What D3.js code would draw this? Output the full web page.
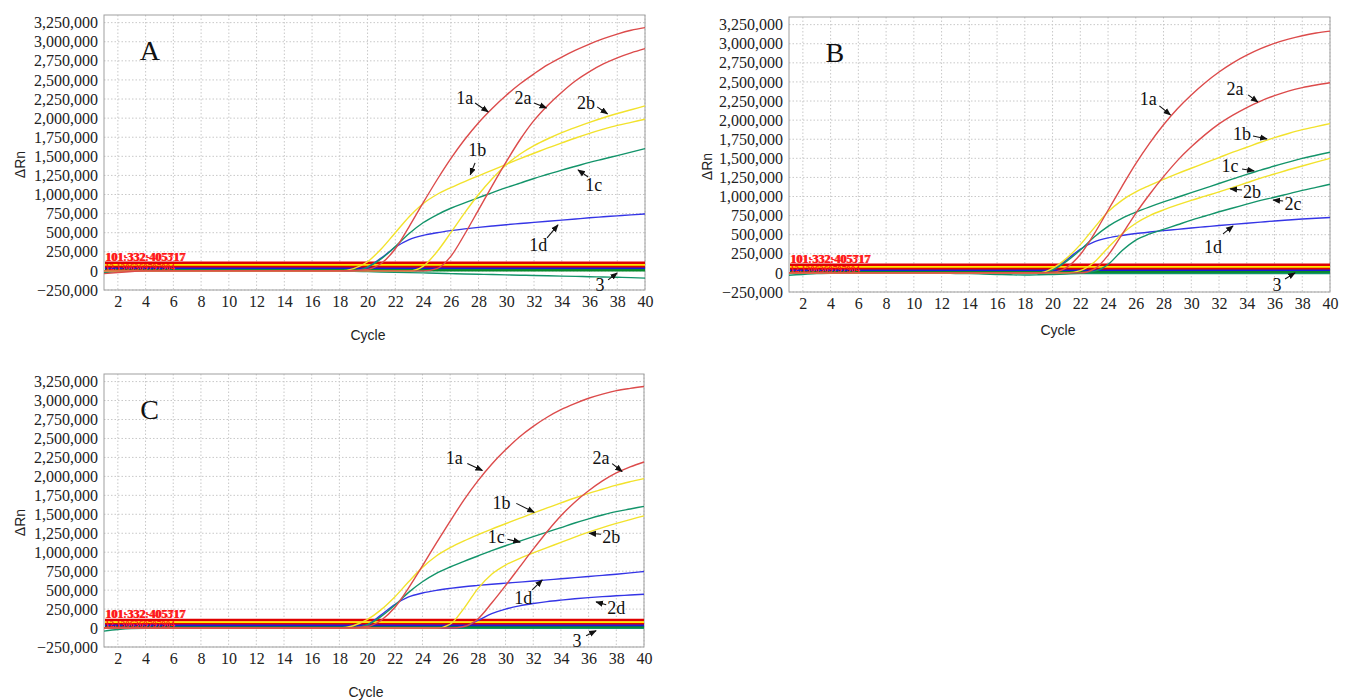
<!DOCTYPE html>
<html>
<head>
<meta charset="utf-8">
<script src="https://cdn.jsdelivr.net/npm/d3@7"></script>
<style>
  body { margin: 0; background: #fff; }
  svg { display: block; }
  .domain { display: none; }
</style>
</head>
<body>
<svg id="chart" width="1349" height="700"></svg>
<script>
// cycles on x, ΔRn values in thousands
const cycles = [1,2,3,4,5,6,7,8,9,10,11,12,13,14,15,16,17,18,19,20,
  21,22,23,24,25,26,27,28,29,30,31,32,33,34,35,36,37,38,39,40];
const xTicks = [2,4,6,8,10,12,14,16,18,20,22,24,26,28,30,32,34,36,38,40];
const yTicks = [-250000,0,250000,500000,750000,1000000,1250000,1500000,1750000,
  2000000,2250000,2500000,2750000,3000000,3250000];

// thresholds (thousands) drawn as flat bands
const thresholdValues = [105, 72, 50, 28, 8];
const thresholdColors = ["#e00000", "#ffe600", "#e00000", "#1a1ad8", "#078a2c"];

// Panel A
const A_1a = [-35,-20,-8,0,0,0,0,0,0,0, 0,0,0,0,0,0,0,0,5,20,
  100,290,580,890,1190,1470,1720,1940,2130,2300, 2450,2580,2700,2800,2890,2970,3040,3100,3150,3185];
const A_2a = [0,0,0,0,0,0,0,0,0,0, 0,0,0,0,0,0,0,0,0,0,
  0,0,0,0,30,190,480,800,1120,1430, 1720,1970,2170,2340,2490,2610,2710,2790,2855,2910];
const A_1b = [0,0,0,0,0,0,0,0,0,0, 0,0,0,0,0,0,0,0,30,120,
  290,500,710,880,1000,1090,1170,1245,1320,1395, 1470,1540,1610,1675,1740,1800,1855,1905,1945,1985];
const A_2b = [0,0,0,0,0,0,0,0,0,0, 0,0,0,0,0,0,0,0,0,0,
  0,0,0,60,250,500,760,1000,1210,1390, 1530,1640,1730,1810,1880,1945,2005,2060,2110,2160];
const A_1c = [0,0,0,0,0,0,0,0,0,0, 0,0,0,0,0,0,0,0,0,50,
  160,320,490,630,735,820,890,960,1025,1090, 1150,1210,1265,1320,1370,1420,1465,1510,1555,1600];
const A_1d = [0,0,0,0,0,0,0,0,0,0, 0,0,0,0,0,0,0,0,0,50,
  170,310,410,465,500,527,550,570,588,605, 620,635,650,665,680,695,708,721,734,746];
const A_3 = [-20,-10,0,5,5,5,5,5,5,5, 5,5,5,5,5,0,0,-3,-6,-10,
  -14,-18,-22,-26,-30,-35,-40,-44,-48,-52, -56,-60,-64,-68,-72,-76,-80,-84,-88,-95];

// Panel B
const B_1a = [0,0,0,0,0,0,0,0,0,0, 0,0,0,0,0,0,0,0,0,10,
  70,240,510,820,1130,1430,1700,1940,2150,2330, 2490,2630,2750,2850,2935,3005,3060,3105,3140,3165];
const B_2a = [0,0,0,0,0,0,0,0,0,0, 0,0,0,0,0,0,0,0,0,0,
  0,0,50,230,500,780,1030,1260,1470,1650, 1810,1950,2065,2165,2250,2320,2380,2425,2460,2490];
const B_1b = [0,0,0,0,0,0,0,0,0,0, 0,0,0,0,0,0,0,0,0,60,
  190,370,590,800,950,1060,1145,1225,1300,1370, 1440,1510,1580,1645,1710,1770,1825,1875,1915,1955];
const B_1c = [0,0,0,0,0,0,0,0,0,0, 0,0,0,0,0,0,0,0,0,40,
  150,300,470,610,715,795,865,930,990,1050, 1110,1170,1230,1290,1345,1400,1450,1500,1540,1580];
const B_2b = [0,0,0,0,0,0,0,0,0,0, 0,0,0,0,0,0,0,0,0,0,
  0,30,140,330,510,650,750,825,890,950, 1005,1060,1120,1180,1240,1295,1350,1400,1450,1500];
const B_2c = [0,0,0,0,0,0,0,0,0,0, 0,0,0,0,0,0,0,0,0,0,
  0,0,20,110,290,430,510,570,630,690, 745,800,850,900,950,990,1035,1080,1120,1160];
const B_1d = [0,0,0,0,0,0,0,0,0,0, 0,0,0,0,0,0,0,0,0,40,
  170,310,405,458,490,515,535,553,570,588, 604,620,635,650,665,680,693,705,715,725];
const B_3 = [-30,-20,-10,-5,-5,-5,-5,-5,-5,-5, -5,-5,-8,-10,-15,-20,-25,-28,-25,-20,
  -15,-10,-8,-8,-8,-8,-8,-8,-8,-8, -8,-8,-8,-8,-8,-8,-8,-8,-8,-8];

// Panel C
const C_1a = [0,0,0,0,0,0,0,0,0,0, 0,0,0,0,0,0,0,0,5,20,
  100,270,530,820,1120,1410,1690,1940,2160,2350, 2520,2660,2780,2880,2960,3030,3085,3130,3160,3185];
const C_2a = [0,0,0,0,0,0,0,0,0,0, 0,0,0,0,0,0,0,0,0,0,
  0,0,0,0,0,0,20,120,330,560, 800,1040,1270,1480,1660,1810,1940,2045,2125,2190];
const C_1b = [0,0,0,0,0,0,0,0,0,0, 0,0,0,0,0,0,0,0,30,110,
  240,410,610,800,950,1060,1150,1230,1305,1375, 1445,1515,1585,1650,1715,1775,1830,1885,1930,1970];
const C_1c = [0,0,0,0,0,0,0,0,0,0, 0,0,0,0,0,0,0,0,0,40,
  150,300,470,610,720,805,880,950,1020,1085, 1145,1205,1265,1325,1385,1440,1490,1535,1570,1605];
const C_2b = [0,0,0,0,0,0,0,0,0,0, 0,0,0,0,0,0,0,0,0,0,
  0,0,0,0,0,50,260,520,710,830, 915,990,1060,1130,1200,1265,1325,1380,1430,1480];
const C_1d = [0,0,0,0,0,0,0,0,0,0, 0,0,0,0,0,0,0,0,0,40,
  170,310,410,462,497,523,545,562,578,592, 606,620,635,650,665,680,695,710,727,745];
const C_2d = [0,0,0,0,0,0,0,0,0,0, 0,0,0,0,0,0,0,0,0,0,
  0,0,0,0,0,0,20,100,190,250, 292,323,348,368,386,401,414,425,436,446];
const C_3 = [-40,-20,-8,-5,-5,-5,-5,-5,-5,-5, -5,-5,-5,-5,-5,-5,-5,-5,-5,-5,
  -5,-5,-5,-5,-5,-5,-5,-5,-5,-5, -5,-5,-5,-5,-5,-5,-5,-5,-5,-5];

// annotation text + arrow (tail -> tip), all in data units [cycle, thousands]
const A_notes = [
  {t: "1a", at: [27.0, 2265], from: [27.75, 2199], to: [28.7, 2081]},
  {t: "2a", at: [31.2, 2265], from: [32.0, 2199], to: [32.9, 2134]},
  {t: "2b", at: [35.75, 2199], from: [36.55, 2147], to: [37.3, 2055]},
  {t: "1b", at: [27.9, 1584], from: [27.75, 1414], to: [27.4, 1257]},
  {t: "1c", at: [36.3, 1126], from: [35.9, 1230], to: [35.17, 1322]},
  {t: "1d", at: [32.3, 340], from: [32.94, 432], to: [33.73, 602]},
  {t: "3", at: [36.76, -183], from: [37.34, -118], to: [38.0, -26]}
];
const B_notes = [
  {t: "1a", at: [26.9, 2278], from: [27.7, 2186], to: [28.5, 2068]},
  {t: "2a", at: [33.16, 2409], from: [34.1, 2330], to: [34.8, 2238]},
  {t: "1b", at: [33.66, 1820], from: [34.45, 1793], to: [35.46, 1754]},
  {t: "1c", at: [32.8, 1400], from: [33.66, 1361], to: [34.53, 1335]},
  {t: "2b", at: [34.38, 1060], from: [33.66, 1086], to: [32.8, 1100]},
  {t: "2c", at: [37.34, 903], from: [36.62, 942], to: [35.9, 955]},
  {t: "1d", at: [31.57, 340], from: [32.29, 510], to: [33.01, 615]},
  {t: "3", at: [36.18, -157], from: [36.76, -79], to: [37.48, 0]}
];
const C_notes = [
  {t: "1a", at: [26.3, 2248], from: [27.24, 2169], to: [28.33, 2077]},
  {t: "2a", at: [36.9, 2248], from: [37.7, 2169], to: [38.42, 2064]},
  {t: "1b", at: [29.7, 1644], from: [30.78, 1644], to: [32.07, 1526]},
  {t: "1c", at: [29.33, 1198], from: [30.13, 1172], to: [31.06, 1132]},
  {t: "2b", at: [37.63, 1198], from: [36.9, 1237], to: [36.04, 1250]},
  {t: "1d", at: [31.28, 398], from: [31.93, 502], to: [32.65, 634]},
  {t: "2d", at: [37.99, 266], from: [37.27, 306], to: [36.54, 345]},
  {t: "3", at: [35.17, -167], from: [35.82, -101], to: [36.54, -35]}
];

const RED = "#dc4b4b", YEL = "#f2e22c", GRN = "#13946a", BLU = "#3535e6";
const SERIF = "'Liberation Serif', 'Times New Roman', serif";
const SANS = "'Liberation Sans', Arial, sans-serif";

const panels = [
  {letter: "A", left: 104, top: 15, right: 645, bottom: 290, cycleX: 368, cycleY: 335, labelX: 20,
    series: [[A_3, GRN], [A_1d, BLU], [A_1c, GRN], [A_2b, YEL], [A_1b, YEL], [A_2a, RED], [A_1a, RED]],
    notes: A_notes},
  {letter: "B", left: 789, top: 17, right: 1330, bottom: 292, cycleX: 1058, cycleY: 330, labelX: 707,
    series: [[B_3, GRN], [B_1d, BLU], [B_2c, GRN], [B_1c, GRN], [B_2b, YEL], [B_1b, YEL], [B_2a, RED], [B_1a, RED]],
    notes: B_notes},
  {letter: "C", left: 104, top: 374, right: 644, bottom: 647, cycleX: 366, cycleY: 692, labelX: 20,
    series: [[C_3, GRN], [C_2d, BLU], [C_1d, BLU], [C_1c, GRN], [C_2b, YEL], [C_1b, YEL], [C_2a, RED], [C_1a, RED]],
    notes: C_notes}
];

const svg = d3.select("#chart");

svg.append("defs").append("marker")
  .attr("id", "arrow")
  .attr("viewBox", "0 0 10 10")
  .attr("refX", 9).attr("refY", 5)
  .attr("markerWidth", 7).attr("markerHeight", 7)
  .attr("orient", "auto")
  .append("path")
  .attr("d", "M0,1 L10,5 L0,9 z")
  .attr("fill", "#111");

function drawPanel(p) {
  const x = d3.scaleLinear().domain([1, 40]).range([p.left, p.right]);
  const y = d3.scaleLinear().domain([-250000, 3350000]).range([p.bottom, p.top]);
  const g = svg.append("g");

  // grid
  g.append("g").selectAll("line").data(xTicks).join("line")
    .attr("x1", d => x(d)).attr("x2", d => x(d))
    .attr("y1", p.top).attr("y2", p.bottom)
    .attr("stroke", "#c8c8c8").attr("stroke-dasharray", "1.5,2");
  g.append("g").selectAll("line").data(yTicks).join("line")
    .attr("x1", p.left).attr("x2", p.right)
    .attr("y1", d => y(d)).attr("y2", d => y(d))
    .attr("stroke", "#c8c8c8").attr("stroke-dasharray", "1.5,2");

  g.append("rect")
    .attr("x", p.left).attr("y", p.top)
    .attr("width", p.right - p.left).attr("height", p.bottom - p.top)
    .attr("fill", "none").attr("stroke", "#a0a0a0").attr("stroke-width", 1);

  // axes
  const yAxis = g.append("g")
    .attr("transform", `translate(${p.left},0)`)
    .call(d3.axisLeft(y).tickValues(yTicks).tickFormat(d3.format(",")).tickSize(0).tickPadding(6));
  const xAxis = g.append("g")
    .attr("transform", `translate(0,${p.bottom})`)
    .call(d3.axisBottom(x).tickValues(xTicks).tickSize(0).tickPadding(6));
  [yAxis, xAxis].forEach(a => a.selectAll("text")
    .style("font-family", SERIF)
    .style("font-size", "16px")
    .attr("fill", "#222"));

  g.append("text")
    .attr("transform", `translate(${p.labelX},${(p.top + p.bottom) / 2 + 12}) rotate(-90)`)
    .attr("text-anchor", "middle")
    .attr("dominant-baseline", "central")
    .style("font-family", SANS)
    .style("font-size", "14px")
    .attr("fill", "#222")
    .text("ΔRn");

  g.append("text")
    .attr("x", p.cycleX).attr("y", p.cycleY)
    .attr("text-anchor", "middle")
    .attr("dominant-baseline", "central")
    .style("font-family", SANS)
    .style("font-size", "14px")
    .attr("fill", "#222")
    .text("Cycle");

  // threshold bands
  g.append("g").selectAll("line").data(thresholdValues).join("line")
    .attr("x1", p.left + 1).attr("x2", p.right)
    .attr("y1", d => y(d * 1000)).attr("y2", d => y(d * 1000))
    .attr("stroke", (d, i) => thresholdColors[i])
    .attr("stroke-width", 2.6);

  // curves
  const line = d3.line()
    .x((d, i) => x(cycles[i]))
    .y(d => y(d * 1000))
    .curve(d3.curveMonotoneX);
  g.append("g").selectAll("path").data(p.series).join("path")
    .attr("d", d => line(d[0]))
    .attr("fill", "none")
    .attr("stroke", d => d[1])
    .attr("stroke-width", 1.4);

  // overlapping threshold labels
  const lbl = g.append("g")
    .style("font-family", SERIF)
    .style("font-weight", "bold")
    .attr("fill", "#ff1a1a");
  lbl.append("text").attr("x", x(1) + 1).attr("y", y(thresholdValues[0] * 1000) - 2)
    .style("font-size", "12px").text("101:332:405317");
  lbl.append("text").attr("x", x(1) + 2).attr("y", y(thresholdValues[0] * 1000) - 2)
    .style("font-size", "12px").text("101-332-405717");
  lbl.append("text").attr("x", x(1) + 1).attr("y", y(thresholdValues[2] * 1000) + 3)
    .style("font-size", "9px").text("12.1306369797904");

  // panel letter
  g.append("text")
    .attr("x", x(4.3)).attr("y", y(2880000))
    .attr("text-anchor", "middle")
    .attr("dominant-baseline", "central")
    .style("font-family", SERIF)
    .style("font-size", "28px")
    .attr("fill", "#111")
    .text(p.letter);

  // annotations
  const notes = g.append("g");
  notes.selectAll("line").data(p.notes).join("line")
    .attr("x1", d => x(d.from[0])).attr("y1", d => y(d.from[1] * 1000))
    .attr("x2", d => x(d.to[0])).attr("y2", d => y(d.to[1] * 1000))
    .attr("stroke", "#111").attr("stroke-width", 1.1)
    .attr("marker-end", "url(#arrow)");
  notes.selectAll("text").data(p.notes).join("text")
    .attr("x", d => x(d.at[0])).attr("y", d => y(d.at[1] * 1000))
    .attr("text-anchor", "middle")
    .attr("dominant-baseline", "central")
    .style("font-family", SERIF)
    .style("font-size", "18px")
    .attr("fill", "#111")
    .text(d => d.t);
}

panels.forEach(drawPanel);
</script>
</body>
</html>
